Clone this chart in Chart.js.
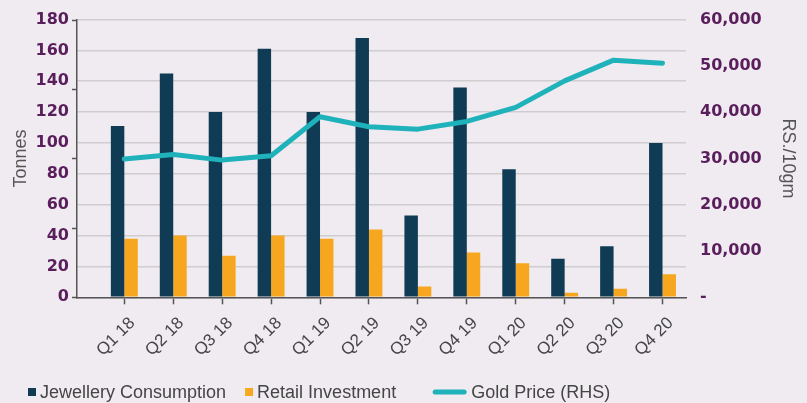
<!DOCTYPE html>
<html>
<head>
<meta charset="utf-8">
<script src="https://cdn.jsdelivr.net/npm/chart.js@4.4.1/dist/chart.umd.min.js"></script>
<style>
  html, body { margin: 0; padding: 0; background: #efebf0; }
  #wrap { width: 807px; height: 403px; position: relative; }
</style>
</head>
<body>
<div id="wrap"><canvas id="c" width="807" height="403"></canvas></div>
<script>
// ---- Data ----
const categories = ['Q1 18','Q2 18','Q3 18','Q4 18','Q1 19','Q2 19','Q3 19','Q4 19','Q1 20','Q2 20','Q3 20','Q4 20'];
const jewellery = [111, 145, 120, 161, 120, 168, 53, 136, 83, 25, 33, 100];
const retail = [38, 40, 27, 40, 38, 44, 7, 29, 22, 3, 5.5, 15];
const goldPrice = [29850, 30860, 29630, 30560, 38980, 36820, 36320, 37990, 41010, 46750, 51220, 50570];
const leftTicks = [0, 20, 40, 60, 80, 100, 120, 140, 160, 180];
const leftMajorMarks = [0, 45, 90, 135, 180];
const rightTicks = [0, 10000, 20000, 30000, 40000, 50000, 60000];
const seriesNames = ['Jewellery Consumption', 'Retail Investment', 'Gold Price (RHS)'];

const toXY = arr => arr.map((v, i) => ({ x: i, y: v }));

const PURPLE = '#5a1e5c';
const GREY_TXT = '#454545';
const AXIS = '#555555';
const GRID = '#d0cdd0';

// small tick marks on the left axis (at its own major unit)
const leftMarksPlugin = {
  id: 'leftMarks',
  afterDatasetsDraw(chart) {
    const s = chart.scales.y;
    const ctx = chart.ctx;
    ctx.save();
    ctx.strokeStyle = AXIS;
    ctx.lineWidth = 1.5;
    leftMajorMarks.forEach(v => {
      const py = Math.round(s.getPixelForValue(v)) + 0.5;
      ctx.beginPath();
      ctx.moveTo(s.right - 5, py);
      ctx.lineTo(s.right, py);
      ctx.stroke();
    });
    ctx.restore();
  }
};

const legendPlugin = {
  id: 'customLegend',
  afterDraw(chart) {
    const ctx = chart.ctx;
    const ds = chart.data.datasets;
    const order = [1, 2, 0]; // jewellery, retail, gold
    const gaps = [0, 19, 37];
    let x = 28;
    const yc = 393;
    ctx.save();
    ctx.font = '18px "Liberation Sans", Arial, sans-serif';
    ctx.textBaseline = 'middle';
    ctx.textAlign = 'left';
    order.forEach((di, k) => {
      const d = ds[di];
      x += gaps[k];
      if (d.type === 'line') {
        ctx.strokeStyle = d.borderColor;
        ctx.lineWidth = 5;
        ctx.lineCap = 'round';
        ctx.beginPath();
        ctx.moveTo(x + 2, yc - 1);
        ctx.lineTo(x + 31, yc - 1);
        ctx.stroke();
        x += 33 + 5;
      } else {
        ctx.fillStyle = d.backgroundColor;
        ctx.fillRect(x, yc - 5, 8, 8);
        x += 8 + 4;
      }
      ctx.fillStyle = GREY_TXT;
      ctx.fillText(d.label, x, yc);
      x += ctx.measureText(d.label).width;
    });
    ctx.restore();
  }
};

new Chart(document.getElementById('c'), {
  data: {
    datasets: [
      {
        type: 'line', label: seriesNames[2], data: toXY(goldPrice), yAxisID: 'y1', xAxisID: 'x',
        borderColor: '#1fb2bb', borderWidth: 5, pointRadius: 0, tension: 0, fill: false,
        borderCapStyle: 'round', borderJoinStyle: 'round', order: 0
      },
      {
        type: 'bar', label: seriesNames[0], data: toXY(jewellery), yAxisID: 'y', xAxisID: 'x',
        backgroundColor: '#0f3c54', categoryPercentage: 0.55, barPercentage: 1, order: 1
      },
      {
        type: 'bar', label: seriesNames[1], data: toXY(retail), yAxisID: 'y', xAxisID: 'x',
        backgroundColor: '#f6a71f', categoryPercentage: 0.55, barPercentage: 1, order: 1
      }
    ]
  },
  options: {
    responsive: false,
    animation: false,
    events: [],
    layout: { padding: { top: 19.5, left: 0, right: 0, bottom: 0 } },
    plugins: { legend: { display: false }, tooltip: { enabled: false } },
    scales: {
      x: {
        type: 'linear', position: 'bottom', min: -0.967, max: 11.48, offset: false,
        afterBuildTicks: s => { s.ticks = categories.map((c, i) => ({ value: i })); },
        afterFit: s => { s.height = 403 - 297.3; s.paddingLeft = 0; s.paddingRight = 0; },
        ticks: {
          callback: v => categories[v],
          autoSkip: false, maxRotation: 45, minRotation: 45, labelOffset: 8,
          color: GREY_TXT, font: { family: '"Liberation Sans", Arial, sans-serif', size: 17 }, padding: 9
        },
        grid: { offset: false, drawOnChartArea: false, drawTicks: true, tickLength: 7, tickColor: AXIS, tickWidth: 1.5 },
        border: { display: true, color: AXIS, width: 1.5 }
      },
      y: {
        type: 'linear', position: 'left', min: 0, max: 180,
        afterBuildTicks: s => { s.ticks = leftTicks.map(v => ({ value: v })); },
        afterFit: s => { s.width = 77; s.paddingTop = 0; s.paddingBottom = 0; },
        ticks: {
          autoSkip: false,
          color: PURPLE, font: { family: '"DejaVu Sans", sans-serif', size: 16, weight: 'bold' }, padding: 8
        },
        grid: { display: true, drawOnChartArea: true, color: GRID, lineWidth: 1.6, drawTicks: false },
        border: { display: true, color: AXIS, width: 1.5 },
        title: {
          display: true, text: 'Tonnes', color: '#555555',
          font: { family: '"Liberation Sans", Arial, sans-serif', size: 18 }, padding: { top: 10, bottom: 0 }
        }
      },
      y1: {
        type: 'linear', position: 'right', min: 0, max: 60000,
        afterBuildTicks: s => { s.ticks = rightTicks.map(v => ({ value: v })); },
        afterFit: s => { s.width = 807 - 686; s.paddingTop = 0; s.paddingBottom = 0; },
        ticks: {
          autoSkip: false,
          callback: v => v === 0 ? '-' : v.toLocaleString('en-US'),
          color: PURPLE, font: { family: '"DejaVu Sans", sans-serif', size: 16, weight: 'bold' }, padding: 14
        },
        grid: { display: false, drawTicks: false },
        border: { display: false },
        title: {
          display: true, text: 'RS./10gm', color: '#555555',
          font: { family: '"Liberation Sans", Arial, sans-serif', size: 18 }, padding: { top: 8, bottom: 0 }
        }
      }
    }
  },
  plugins: [leftMarksPlugin, legendPlugin]
});
</script>
</body>
</html>
